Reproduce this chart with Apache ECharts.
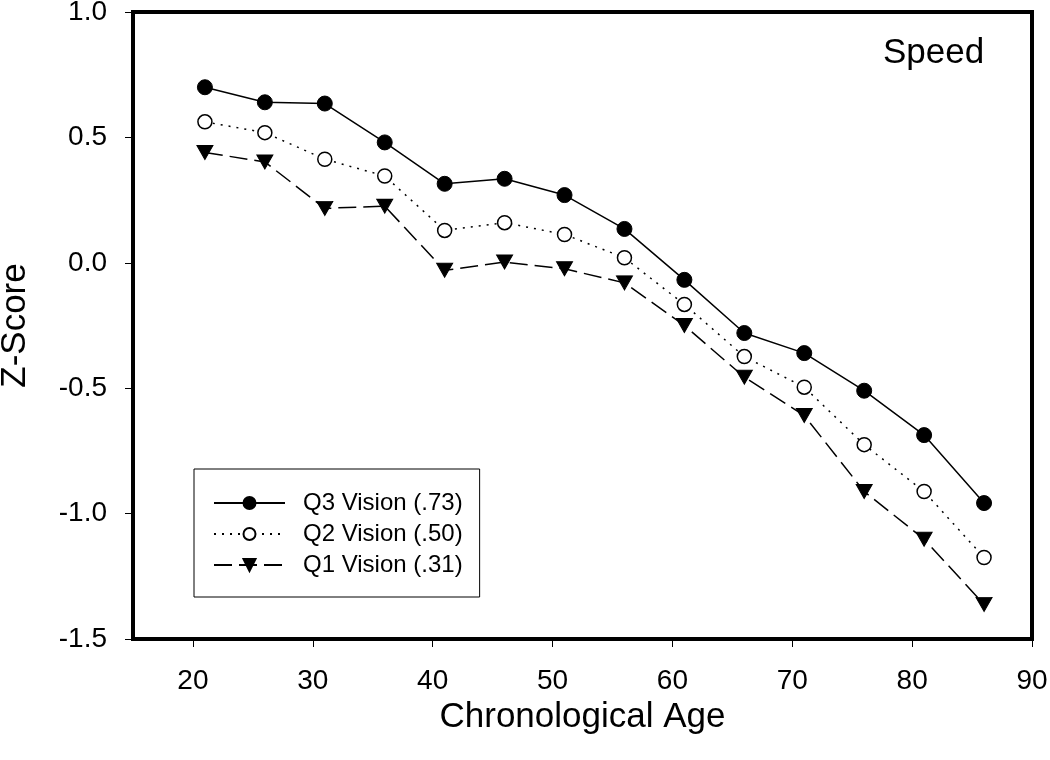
<!DOCTYPE html>
<html>
<head>
<meta charset="utf-8">
<script src="https://cdn.jsdelivr.net/npm/echarts@6/dist/echarts.min.js"></script>
<style>
  html, body { margin: 0; padding: 0; background: #fff; }
  #chart { width: 1050px; height: 760px; }
</style>
</head>
<body>
<div id="chart"></div>
<script>
const ages = [21, 26, 31, 36, 41, 46, 51, 56, 61, 66, 71, 76, 81, 86];
const q3Vision = [0.70, 0.64, 0.635, 0.48, 0.315, 0.335, 0.27, 0.135, -0.068, -0.28, -0.36, -0.51, -0.687, -0.958];
const q2Vision = [0.562, 0.519, 0.413, 0.346, 0.129, 0.160, 0.113, 0.020, -0.166, -0.374, -0.496, -0.725, -0.912, -1.175];
const q1Vision = [0.44, 0.402, 0.217, 0.226, -0.030, 0.003, -0.024, -0.080, -0.250, -0.456, -0.609, -0.912, -1.102, -1.362];
const xTicks = [20, 30, 40, 50, 60, 70, 80, 90];
const seriesNames = ['Q3 Vision (.73)', 'Q2 Vision (.50)', 'Q1 Vision (.31)'];

const FONT = '"Liberation Sans", Arial, sans-serif';
const pair = (ys) => ages.map((a, i) => [a, ys[i]]);

const chart = echarts.init(document.getElementById('chart'));
chart.setOption({
  animation: false,
  backgroundColor: '#fff',
  textStyle: { fontFamily: FONT, color: '#000' },
  title: {
    text: 'Speed',
    left: 883, top: 36, padding: 0,
    textStyle: { fontFamily: FONT, fontSize: 35, fontWeight: 'normal', color: '#000' }
  },
  grid: {
    left: 133, right: 18, top: 12, bottom: 121,
    outerBoundsMode: 'none',
    containLabel: false,
    show: true, borderColor: '#000', borderWidth: 4, backgroundColor: 'transparent'
  },
  legend: {
    orient: 'vertical',
    left: 194, top: 469,
    padding: [22, 17, 20, 19],
    borderColor: '#000', borderWidth: 1,
    itemWidth: 71, itemHeight: 15, itemGap: 7,
    textStyle: { fontFamily: FONT, fontSize: 24, color: '#000', padding: [0, 0, 0, 13] },
    data: seriesNames
  },
  xAxis: {
    type: 'value', min: 15, max: 90, interval: 5,
    name: 'Chronological Age', nameLocation: 'middle', nameGap: 60,
    nameTextStyle: { fontFamily: FONT, fontSize: 35, color: '#000' },
    axisLine: { show: false, onZero: false },
    axisTick: { show: true, length: 8, customValues: xTicks, lineStyle: { color: '#000', width: 1 } },
    axisLabel: { customValues: xTicks, fontFamily: FONT, fontSize: 28, color: '#000', margin: 28 },
    splitLine: { show: false }
  },
  yAxis: {
    type: 'value', min: -1.5, max: 1.0, interval: 0.5,
    name: 'Z-Score', nameLocation: 'middle', nameGap: 100, nameRotate: 90,
    nameTextStyle: { fontFamily: FONT, fontSize: 35, color: '#000' },
    axisLine: { show: false, onZero: false },
    axisTick: { show: true, length: 8, lineStyle: { color: '#000', width: 1 } },
    axisLabel: {
      fontFamily: FONT, fontSize: 28, color: '#000', margin: 26,
      formatter: (v) => v.toFixed(1)
    },
    splitLine: { show: false }
  },
  series: [
    {
      name: seriesNames[0], type: 'line', data: pair(q3Vision),
      symbol: 'circle', symbolSize: 15,
      itemStyle: { color: '#000', borderColor: '#000', borderWidth: 1 },
      lineStyle: { color: '#000', width: 1.5, type: 'solid' },
      z: 3
    },
    {
      name: seriesNames[1], type: 'line', data: pair(q2Vision),
      symbol: 'circle', symbolSize: 14,
      itemStyle: { color: '#fff', borderColor: '#000', borderWidth: 1.5 },
      lineStyle: { color: '#000', width: 1.5, type: [2, 6] },
      z: 2
    },
    {
      name: seriesNames[2], type: 'line', data: pair(q1Vision),
      symbol: 'triangle', symbolRotate: 180, symbolSize: [16, 14],
      itemStyle: { color: '#000', borderColor: '#000', borderWidth: 1 },
      lineStyle: { color: '#000', width: 1.5, type: [18, 7] },
      z: 1
    }
  ]
});
</script>
</body>
</html>
